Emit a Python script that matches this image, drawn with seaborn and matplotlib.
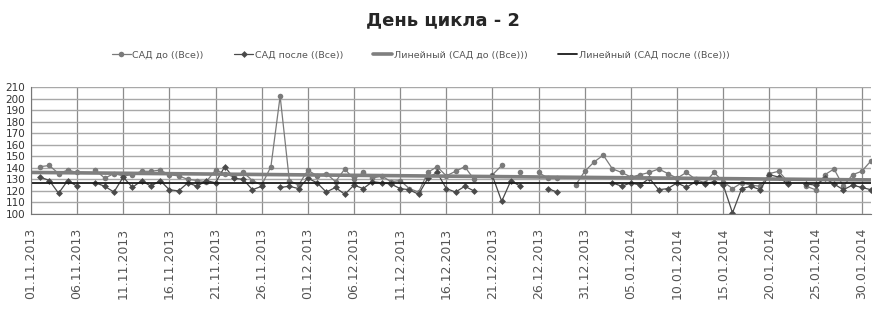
import numpy as np
import pandas as pd
import matplotlib
matplotlib.use('Agg')
import matplotlib.pyplot as plt
import seaborn as sns

nan = np.nan

# daily values 01.11.2013 .. 31.01.2014, nan = no measurement
sad_do = [nan, 141, 142, 135, 138, 136, nan, 138, 131, 135,
          133, 134, 137, 137, 138, 134, 133, 130, 129, 128,
          138, 135, 132, 136, 129, 125, 141, 202, 129, 125,
          138, 133, 135, 128, 139, 130, 136, 131, 133, 128,
          129, 122, 119, 136, 141, 133, 137, 141, 130, nan,
          134, 142, nan, 136, nan, 136, 131, 131, nan, 125,
          137, 145, 151, 139, 136, 132, 134, 136, 139, 135,
          131, 136, 130, 127, 136, 128, 122, 127, 125, 124,
          135, 137, 128, nan, 124, 121, 134, 139, 124, 134,
          137, 146]
sad_posle = [nan, 132, 129, 118, 129, 124, nan, 127, 124, 119,
             132, 123, 129, 124, 129, 121, 120, 127, 124, 129,
             127, 141, 131, 130, 121, 124, nan, 123, 124, 122,
             131, 127, 119, 123, 117, 125, 122, 128, 127, 126,
             122, 121, 117, 131, 136, 122, 119, 124, 120, nan,
             133, 111, 129, 124, nan, nan, 122, 119, nan, nan,
             nan, nan, nan, 127, 124, 127, 125, 131, 121, 122,
             127, 123, 128, 126, 128, 125, 101, 122, 124, 121,
             134, 132, 126, nan, 126, 125, 131, 126, 121, 125,
             123, 121]

# Excel linear trend lines, start / end values
trend_do = [136.0, 129.5]
trend_posle = [126.6, 126.6]

series_names = ['САД до ((Все))', 'САД после ((Все))']
trend_names = ['Линейный (САД до ((Все)))', 'Линейный (САД после ((Все)))']
x_tick_labels = ['01.11.2013', '06.11.2013', '11.11.2013', '16.11.2013',
                 '21.11.2013', '26.11.2013', '01.12.2013', '06.12.2013',
                 '11.12.2013', '16.12.2013', '21.12.2013', '26.12.2013',
                 '31.12.2013', '05.01.2014', '10.01.2014', '15.01.2014',
                 '20.01.2014', '25.01.2014', '30.01.2014']
y_ticks = list(range(100, 211, 10))

dates = pd.date_range('2013-11-01', periods=len(sad_do), freq='D')
df = pd.DataFrame({'date': dates, 'do': sad_do, 'posle': sad_posle})

sns.set_style('white')
plt.rcParams['font.family'] = ['DejaVu Sans']

fig = plt.figure(figsize=(8.82, 3.10), dpi=100)
ax = fig.add_axes([0.035, 0.3097, 0.9525, 0.4097])

# line breaks where a day is missing, like Excel's "show gaps"
for col, name, c, mk, ms in [('do', series_names[0], '#7a7a7a', 'o', 4),
                             ('posle', series_names[1], '#4a4a4a', 'D', 3.5)]:
    d = df[['date', col]].copy()
    d['seg'] = d[col].isna().cumsum()
    d = d.dropna()
    sns.lineplot(x='date', y=col, data=d, units='seg', estimator=None,
                 color=c, lw=0.9, marker=mk, markersize=ms, markeredgewidth=0,
                 label=name, ax=ax)

ends = pd.DataFrame({'date': [dates[0], dates[-1]]})
for vals, name, c, w in [(trend_do, trend_names[0], '#7f7f7f', 2.6),
                         (trend_posle, trend_names[1], '#1a1a1a', 1.3)]:
    ends['v'] = vals
    sns.lineplot(x='date', y='v', data=ends, color=c, lw=w, label=name, ax=ax)

ax.set_xlim(dates[0], dates[0] + pd.Timedelta(days=91))
ax.set_ylim(100, 210)
ax.set_yticks(y_ticks)
ax.set_yticklabels([str(v) for v in y_ticks], fontsize=7.5, color='#333333')
tick_pos = pd.to_datetime(x_tick_labels, format='%d.%m.%Y')
ax.set_xticks(tick_pos)
ax.set_xticklabels(x_tick_labels, rotation=90, fontsize=9, color='#555555')
ax.set_xlabel('')
ax.set_ylabel('')
ax.grid(axis='y', color='#a8a8a8', lw=1)
ax.grid(axis='x', color='#8c8c8c', lw=0.9)
ax.set_axisbelow(True)
for s in ['top', 'right']:
    ax.spines[s].set_visible(False)
for s in ['left', 'bottom']:
    ax.spines[s].set_color('#777777')
ax.tick_params(axis='y', length=3, color='#777777', pad=1)
ax.tick_params(axis='x', length=4, color='#777777', pad=6)

# one legend entry per series (units give one handle per segment)
h, l = ax.get_legend_handles_labels()
uniq = {}
for hh, ll in zip(h, l):
    uniq.setdefault(ll, hh)
ax.get_legend().remove()
fig.legend(list(uniq.values()), list(uniq.keys()), loc='center',
           bbox_to_anchor=(0.477, 0.823), ncol=4, frameon=False,
           labelcolor='#555555', handlelength=2.0, columnspacing=3.2,
           handletextpad=0.2, prop={'family': ['DejaVu Sans'], 'size': 6.8})

fig.text(0.502, 0.935, 'День цикла - 2', ha='center', va='center', fontsize=13,
         fontweight='bold')

fig.savefig('out.png', dpi=100)
